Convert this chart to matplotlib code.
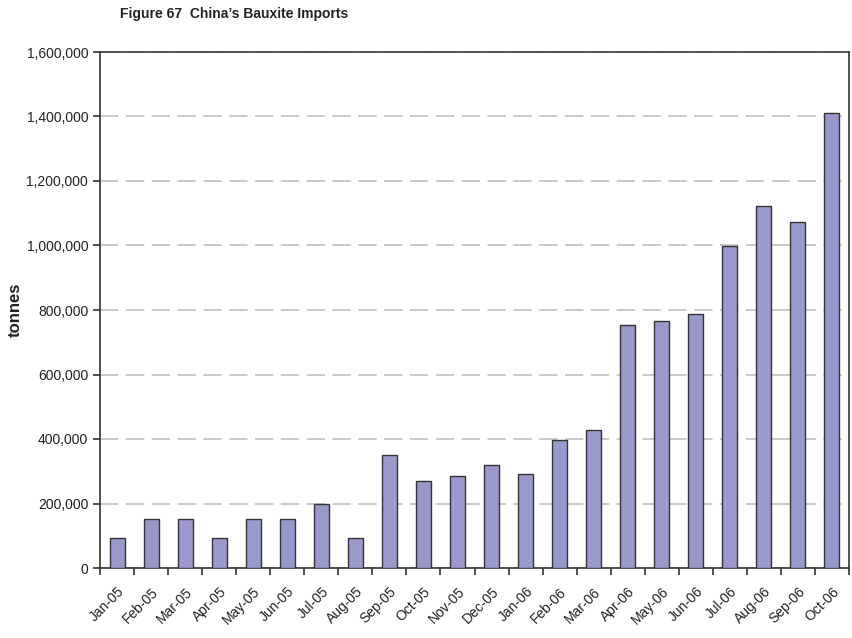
import matplotlib
matplotlib.use("Agg")
import matplotlib.pyplot as plt
import numpy as np
from matplotlib.ticker import FuncFormatter, MultipleLocator

plt.rcParams['font.family'] = ['Liberation Sans', 'DejaVu Sans']

months = ["Jan-05", "Feb-05", "Mar-05", "Apr-05", "May-05", "Jun-05", "Jul-05", "Aug-05",
          "Sep-05", "Oct-05", "Nov-05", "Dec-05", "Jan-06", "Feb-06", "Mar-06", "Apr-06",
          "May-06", "Jun-06", "Jul-06", "Aug-06", "Sep-06", "Oct-06"]
imports_t = [94000, 153000, 153000, 94000, 153000, 153000, 198000, 94000,
             351000, 269000, 286000, 319000, 292000, 396000, 429000, 755000,
             765000, 787000, 998000, 1124000, 1073000, 1410000]

fig = plt.figure(figsize=(8.52, 6.38), dpi=100)
ax = fig.add_axes([100/852, 1 - 568/638, 749/852, 516/638])

x = np.arange(len(months))
ax.bar(x, imports_t, width=0.44, color="#9999cc", edgecolor="#333333", linewidth=1.0, zorder=3)

ax.set_xlim(-0.5, len(months) - 0.5)
ax.set_ylim(0, 1600000)
ax.yaxis.set_major_locator(MultipleLocator(200000))
ax.yaxis.set_major_formatter(FuncFormatter(lambda v, p: f"{int(v):,}"))
ax.yaxis.grid(True, color="#c0c0c0", linestyle=(0, (11, 4.5)), linewidth=1.2, zorder=0)
ax.set_axisbelow(True)

ax.set_xticks(x)
ax.set_xticklabels(months, rotation=45, ha="right", rotation_mode="anchor", fontsize=10, color="#222222")
ax.set_xticks(np.arange(len(months) + 1) - 0.5, minor=True)
ax.tick_params(axis="x", which="major", length=0, pad=12)
ax.tick_params(axis="x", which="minor", length=5, width=1.2, color="#333333", direction="out")
ax.tick_params(axis="y", length=5, width=1.2, color="#333333", labelsize=10, labelcolor="#222222")

for s in ax.spines.values():
    s.set_color("#333333")
    s.set_linewidth(1.2)

ax.set_ylabel("tonnes", fontsize=12, fontweight="bold", color="#222222", va="center")
ax.yaxis.set_label_coords((15 - 100) / 749, 0.5)
fig.text(120/852, 1 - 14/638, "Figure 67  China\u2019s Bauxite Imports", fontsize=10,
         fontweight="bold", color="#222222", ha="left", va="center")

fig.savefig("out.png", dpi=100)
